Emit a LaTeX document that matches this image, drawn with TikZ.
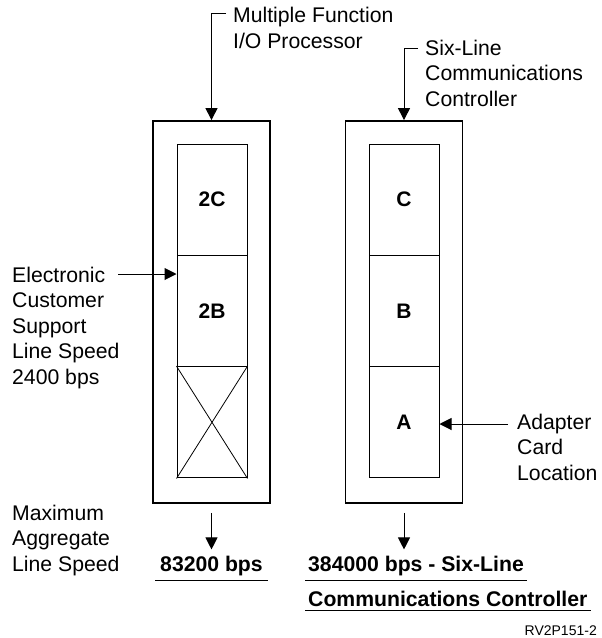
\documentclass[tikz,border=0pt]{standalone}
\usepackage{fontspec}
\setmainfont{Liberation Sans}
\usetikzlibrary{positioning,arrows.meta}

\tikzset{
    frame/.style={draw, line width=1.8pt, minimum width=117pt, minimum height=382pt, inner sep=0pt},
    slot/.style={draw, line width=1pt, minimum width=70pt, minimum height=111.3pt, inner sep=0pt,
        font=\fontsize{21}{25}\selectfont\bfseries},
    lbl/.style={align=left, inner sep=0pt, font=\fontsize{21.2}{25.5}\selectfont},
    rate/.style={inner ysep=4.5pt, font=\fontsize{21.2}{25}\selectfont\bfseries},
    ptr/.style={-{Triangle[length=12pt,width=12pt]}, line width=1pt},
}

\begin{document}
\begin{tikzpicture}[x=1pt, y=-1pt]
    \useasboundingbox (0,0) rectangle (602,638);

    \node[frame] (mfiop) at (211.5,312) {};
    \node[frame] (slcc) at (404,312) {};

    \node[slot] (slot2c) at (212,199.7) {2C};
    \node[slot] (slot2b) at (212,311) {2B};
    \node[slot] (slotx) at (212,422.3) {};
    \node[slot] (slotc) at (404,199.7) {C};
    \node[slot] (slotb) at (404,311) {B};
    \node[slot] (slota) at (404,422.3) {A};
    \draw[line width=0.8pt] (slotx.north west) -- (slotx.south east)
        (slotx.south west) -- (slotx.north east);

    \node[lbl, anchor=base west] (mfiopLbl) at (233,48) {Multiple Function\\I/O Processor};
    \node[lbl, anchor=base west] (slccLbl) at (425,106) {Six-Line\\Communications\\Controller};
    \node[lbl, anchor=base west] (ecsLbl) at (12,384) {Electronic\\Customer\\Support\\Line Speed\\2400 bps};
    \node[lbl, anchor=base west] (acLbl) at (517,480) {Adapter\\Card\\Location};
    \node[lbl, anchor=base west] (maxLbl) at (12,571) {Maximum\\Aggregate\\Line Speed};

    \node[rate, inner xsep=5pt, anchor=base] (rate1) at (211.5,571) {83200 bps};
    \node[rate, inner xsep=3pt, anchor=base west] (rate2) at (305,571) {384000 bps - Six-Line};
    \node[rate, inner xsep=3pt, anchor=base west] (rate3) at (305,606) {Communications Controller};
    \node[inner sep=0pt, anchor=base east, font=\fontsize{14}{16}\selectfont] (figId) at (597,635) {RV2P151-2};

    \coordinate (mfiopTick) at (226,13.5);
    \coordinate (slccTick) at (418,48);
    \coordinate (ecsTail) at (118,274);
    \coordinate (acTail) at (508,424);

    \draw[ptr] (mfiopTick) -| (mfiop.north);
    \draw[ptr] (slccTick) -| (slcc.north);
    \draw[ptr] (ecsTail) -- (ecsTail -| slot2b.west);
    \draw[ptr] (acTail) -- (acTail -| slota.east);
    \draw[ptr, shorten <=9pt, shorten >=1.5pt] (mfiop.south) -- (mfiop.south |- rate1.north);
    \draw[ptr, shorten <=9pt, shorten >=1.5pt] (slcc.south) -- (slcc.south |- rate2.north);

    \draw[line width=1pt] (rate1.south west) -- (rate1.south east);
    \draw[line width=1pt] (rate2.south west) -- (rate2.south east);
    \draw[line width=1pt] (rate3.south west) -- (rate3.south east);
\end{tikzpicture}
\end{document}
